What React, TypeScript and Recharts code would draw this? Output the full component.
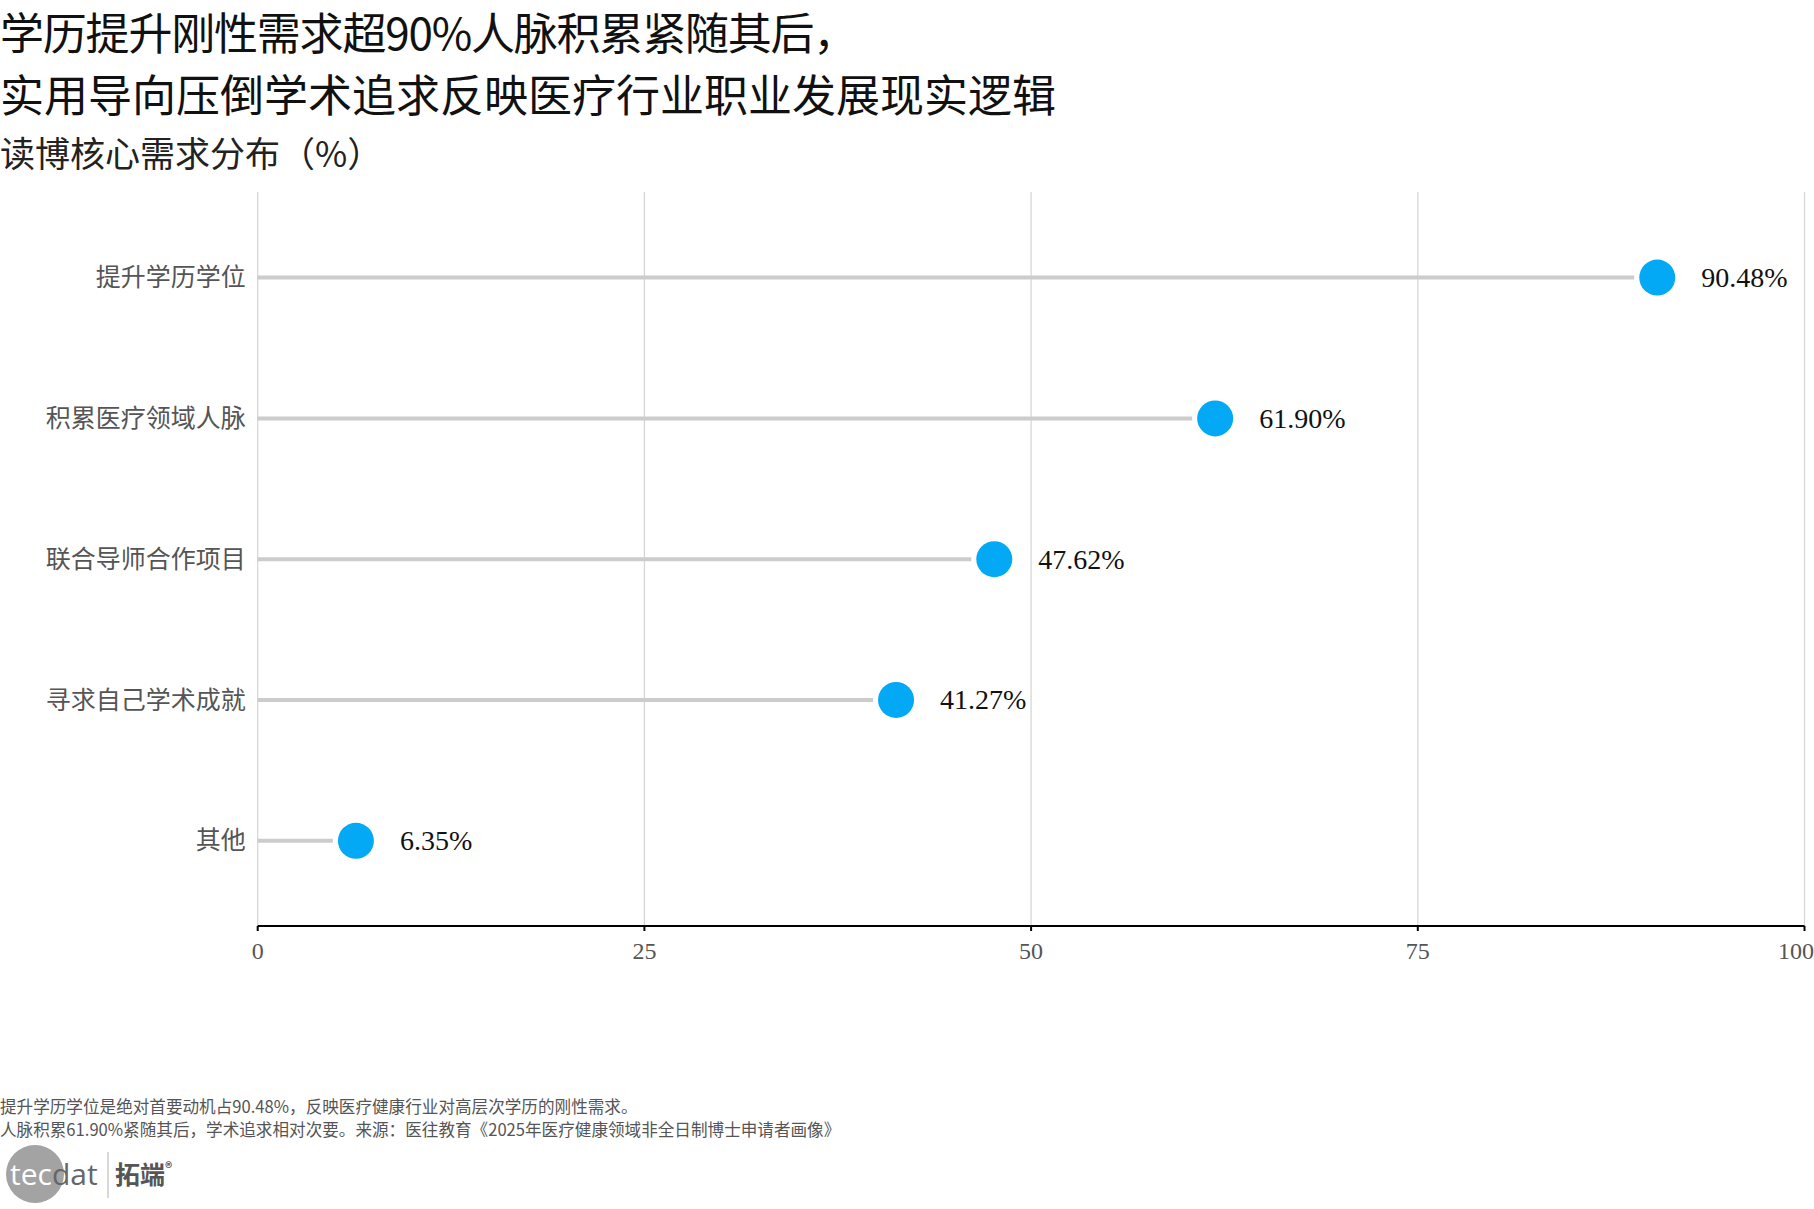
import React from 'react';
import { ComposedChart, Bar, XAxis, YAxis, CartesianGrid } from 'recharts';

const categories = ['提升学历学位', '积累医疗领域人脉', '联合导师合作项目', '寻求自己学术成就', '其他'];
const values = [90.48, 61.9, 47.62, 41.27, 6.35];
const xTicks = [0, 25, 50, 75, 100];

const titleLines = ['学历提升刚性需求超90%人脉积累紧随其后，', '实用导向压倒学术追求反映医疗行业职业发展现实逻辑'];
const subtitle = '读博核心需求分布（%）';
const notes = [
  '提升学历学位是绝对首要动机占90.48%，反映医疗健康行业对高层次学历的刚性需求。',
  '人脉积累61.90%紧随其后，学术追求相对次要。来源：医往教育《2025年医疗健康领域非全日制博士申请者画像》',
];

const data = categories.map((name, i) => ({ name, value: values[i] }));

const SERIF = '"Liberation Serif", "DejaVu Serif", "Noto Sans CJK SC", serif';
const CJK = '"Noto Sans CJK SC", "Liberation Serif", serif';

const Lollipop = (props: any) => {
  const { x, y, width, height, payload } = props;
  const cy = y + height / 2;
  const xe = x + width;
  const v = payload.value as number;
  return (
    <g>
      <line x1={x} y1={cy} x2={Math.max(x, xe - 23)} y2={cy} stroke="#cccccc" strokeWidth={4} />
      <circle cx={xe} cy={cy} r={18} fill="#03A9F4" />
      <text x={xe + 44} y={cy} dominantBaseline="central" fontSize={28} fill="#111" fontFamily={SERIF}>
        {v.toFixed(2) + '%'}
      </text>
    </g>
  );
};

export default function App() {
  return (
    <div style={{ position: 'absolute', left: 0, top: 0, width: 1814, height: 1209, background: '#fff', overflow: 'hidden' }}>
      <div style={{ position: 'absolute', left: 0, top: 8, fontSize: 44, lineHeight: '46px', letterSpacing: -1.2, color: '#111', fontFamily: CJK, whiteSpace: 'nowrap' }}>
        {titleLines[0]}
      </div>
      <div style={{ position: 'absolute', left: 0, top: 70, fontSize: 44, lineHeight: '46px', color: '#111', fontFamily: CJK, whiteSpace: 'nowrap' }}>
        {titleLines[1]}
      </div>
      <div style={{ position: 'absolute', left: 0, top: 134, fontSize: 35, lineHeight: '36px', color: '#222', fontFamily: CJK, whiteSpace: 'nowrap' }}>
        {subtitle}
      </div>

      <div style={{ position: 'absolute', left: 0, top: 0 }}>
        <ComposedChart
          width={1814}
          height={1000}
          data={data}
          layout="vertical"
          margin={{ top: 192, right: 9.5, bottom: 14, left: 0 }}
        >
          <CartesianGrid horizontal={false} vertical={true} stroke="#d4d4d4" strokeWidth={1.2} />
          <XAxis
            type="number"
            domain={[0, 100]}
            ticks={xTicks}
            height={60}
            axisLine={{ stroke: '#000', strokeWidth: 2 }}
            tickLine={{ stroke: '#000', strokeWidth: 2 }}
            tickSize={5}
            tickMargin={11}
            tick={{ fill: '#555', fontSize: 24, fontFamily: SERIF }}
          />
          <YAxis
            type="category"
            dataKey="name"
            width={257.7}
            axisLine={false}
            tickLine={false}
            tickSize={0}
            tickMargin={12}
            padding={{ top: 15, bottom: 15 }}
            tick={{ fill: '#555', fontSize: 25, fontFamily: CJK }}
          />
          <Bar dataKey="value" isAnimationActive={false} shape={Lollipop} />
        </ComposedChart>
      </div>

      <div style={{ position: 'absolute', left: 0, top: 1097, fontSize: 16.6, lineHeight: '19px', color: '#555', fontFamily: CJK, whiteSpace: 'nowrap' }}>
        {notes[0]}
      </div>
      <div style={{ position: 'absolute', left: 0, top: 1120, fontSize: 16.6, lineHeight: '19px', color: '#555', fontFamily: CJK, whiteSpace: 'nowrap' }}>
        {notes[1]}
      </div>

      <svg style={{ position: 'absolute', left: 0, top: 1140 }} width={200} height={69}>
        <circle cx={35} cy={34} r={29} fill="#a3a3a3" />
        <text x={10} y={45} fontSize={30} fontFamily='"Open Sans", "Noto Sans", sans-serif' fill="#fff">
          tec
          <tspan fill="#666">dat</tspan>
        </text>
        <line x1={108} y1={12} x2={108} y2={58} stroke="#cccccc" strokeWidth={1.5} />
        <text x={115} y={44} fontSize={25} fontWeight={700} fontFamily={CJK} fill="#555">
          拓端
          <tspan fontSize={14} dy={-11}>®</tspan>
        </text>
      </svg>
    </div>
  );
}
